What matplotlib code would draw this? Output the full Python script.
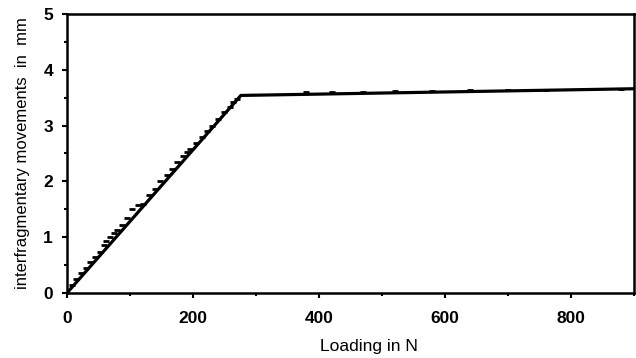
import matplotlib
matplotlib.use("Agg")
import matplotlib.pyplot as plt
from matplotlib.ticker import MultipleLocator

# Fitted bilinear curve
fit_load = [0, 276, 900]
fit_move = [0.0, 3.54, 3.66]

meas_load = [8, 15, 22, 30, 36, 45, 52, 58, 62, 68, 75, 80, 88, 96, 104, 112, 120, 130, 140,
             148, 158, 166, 175, 184, 190, 196, 204, 214, 222, 230, 240, 250, 258, 264, 270,
             380, 420, 470, 520, 580, 640, 700, 760, 820, 880]
meas_move = [0.15, 0.25, 0.36, 0.45, 0.55, 0.64, 0.74, 0.86, 0.94, 1.00, 1.07, 1.12, 1.22,
             1.34, 1.50, 1.57, 1.60, 1.75, 1.87, 2.00, 2.12, 2.22, 2.34, 2.46, 2.52, 2.58,
             2.68, 2.80, 2.90, 3.00, 3.12, 3.24, 3.34, 3.42, 3.48,
             3.61, 3.60, 3.61, 3.62, 3.62, 3.63, 3.64, 3.64, 3.65, 3.66]

x_ticks = [0, 200, 400, 600, 800]
y_ticks = [0, 1, 2, 3, 4, 5]

plt.rcParams['font.family'] = ['Liberation Sans', 'DejaVu Sans']

fig, ax = plt.subplots(figsize=(6.36, 3.58), dpi=100)
fig.subplots_adjust(left=0.1053, right=0.9969, bottom=0.1816, top=0.961)

ax.plot(fit_load, fit_move, color='black', lw=2.3)
ax.plot(meas_load, meas_move, linestyle='none', marker='_', color='black',
        markersize=4.5, markeredgewidth=2.0)

ax.set_xlim(0, 900)
ax.set_ylim(0, 5)
ax.set_xticks(x_ticks)
ax.set_yticks(y_ticks)
ax.xaxis.set_minor_locator(MultipleLocator(100))
ax.yaxis.set_minor_locator(MultipleLocator(0.5))
ax.tick_params(axis='both', which='major', direction='out', length=3.6, width=1.5,
               labelsize=12.5)
ax.tick_params(axis='both', which='minor', direction='out', length=2.5, width=1.5)
ax.tick_params(axis='x', which='major', pad=9.5)
ax.tick_params(axis='y', which='major', pad=6.5)
for lbl in ax.get_xticklabels() + ax.get_yticklabels():
    lbl.set_fontweight('bold')
for s in ax.spines.values():
    s.set_linewidth(1.8)

ax.set_xlabel('Loading in N', fontsize=12.5)
ax.xaxis.label.set_va('center')
ax.xaxis.set_label_coords(0.533, -0.19)
ax.set_ylabel('interfragmentary movements  in  mm', fontsize=12)
ax.yaxis.label.set_va('center')
ax.yaxis.set_label_coords(-0.079, 0.5)

fig.savefig('out.png', dpi=100)
